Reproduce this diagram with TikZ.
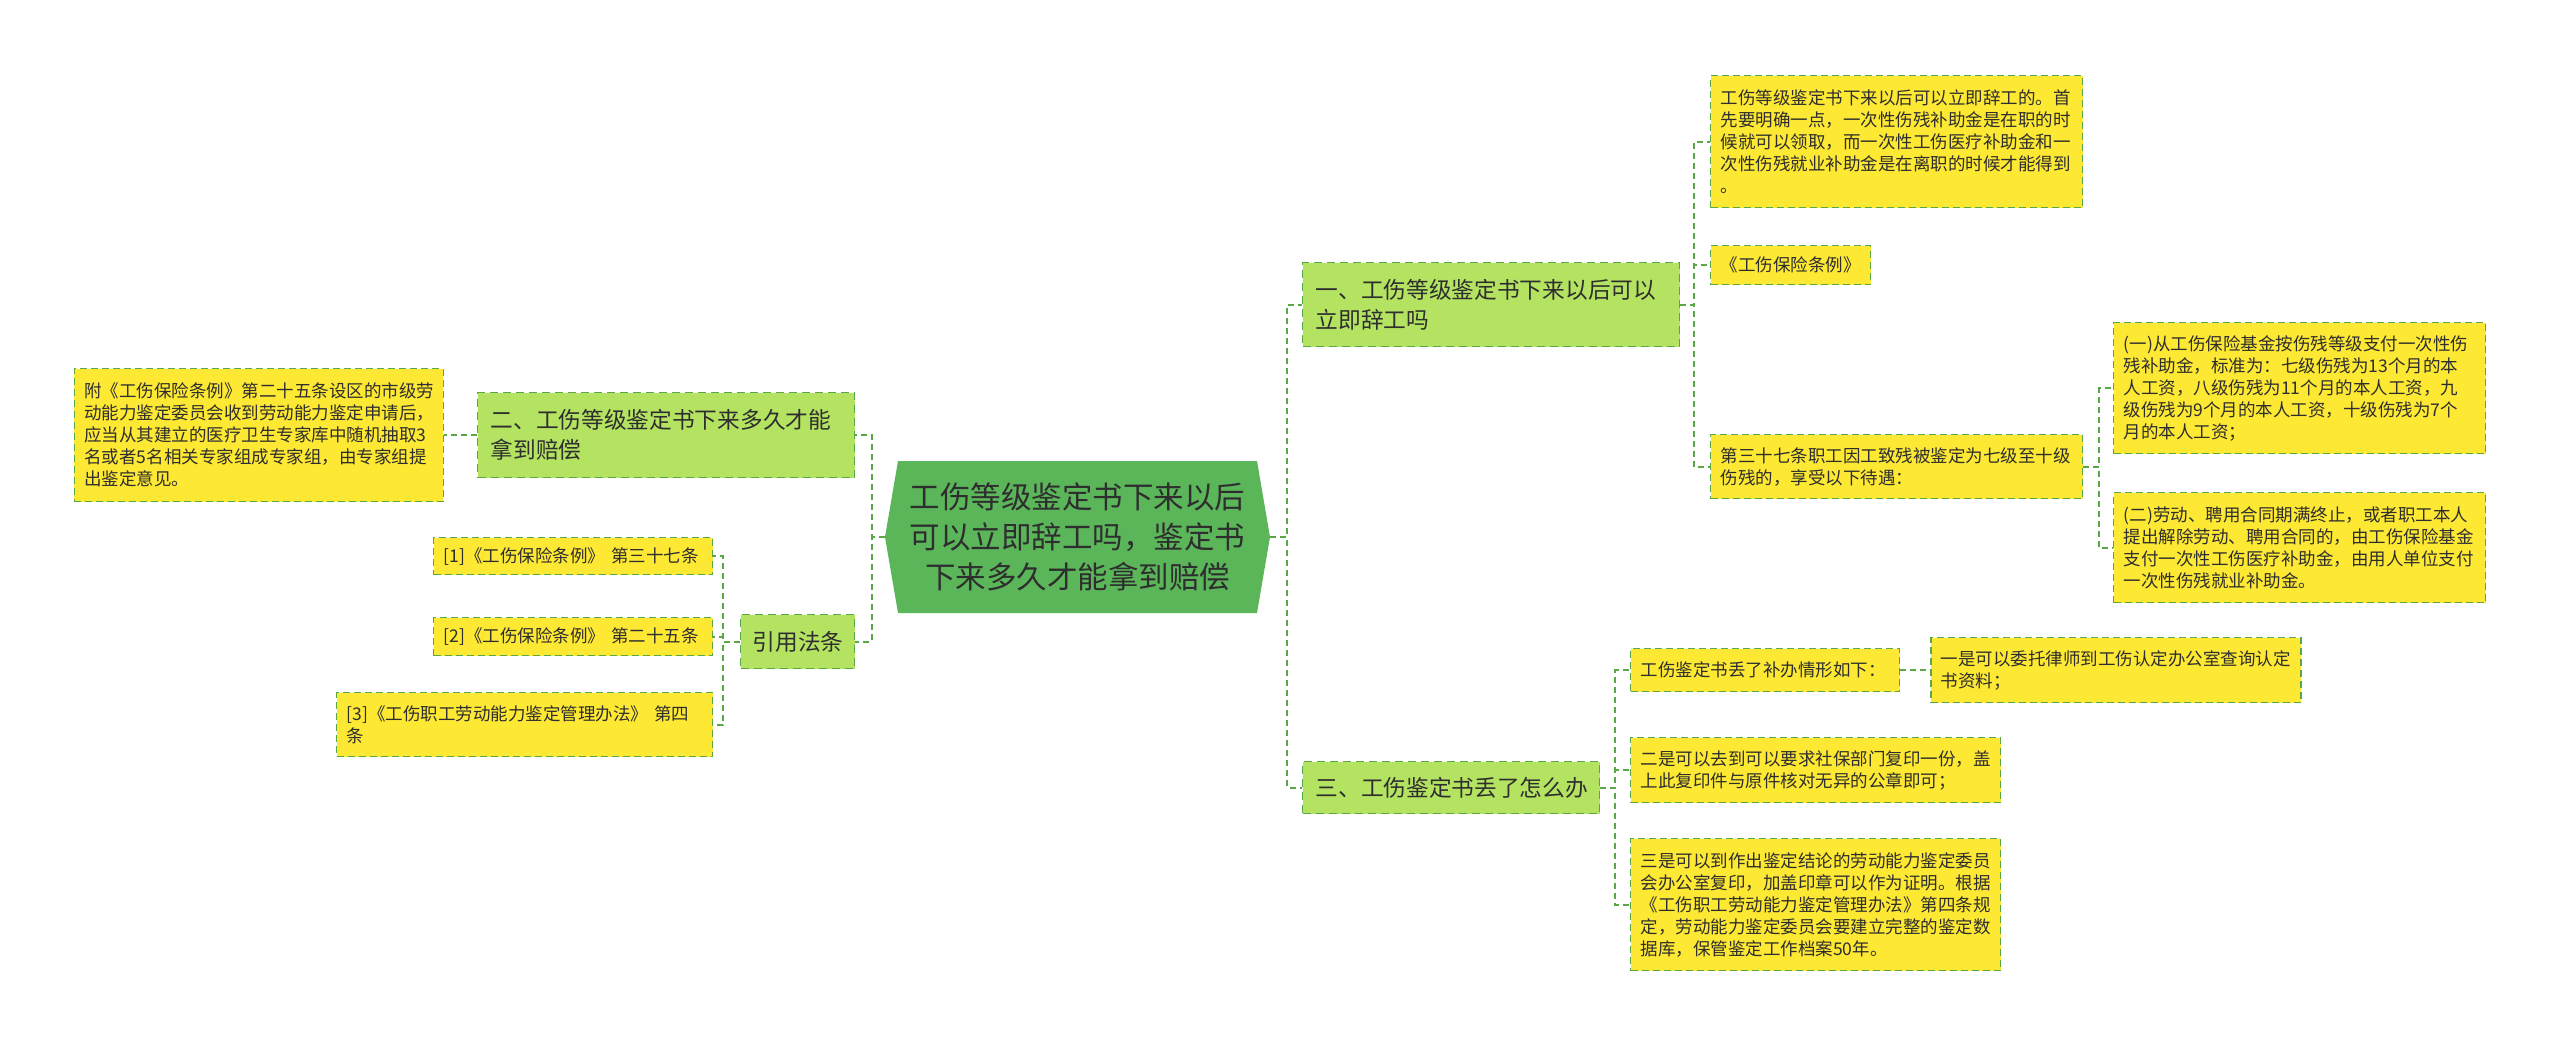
\documentclass[tikz,border=0pt]{standalone}
\usepackage{fontspec}
\setmainfont{Noto Sans CJK SC}
\usepackage{xcolor}
\usepackage{tikz}
\usetikzlibrary{positioning}

\definecolor{rootgreen}{HTML}{5BB65A}
\definecolor{branchgreen}{HTML}{B4E362}
\definecolor{leafyellow}{HTML}{FDE834}
\definecolor{linegreen}{HTML}{5AA845}
\definecolor{textgray}{HTML}{2E2E2E}

\begin{document}
\begin{tikzpicture}[
                x=1pt, y=-1pt,
                rootnode/.style={minimum width=385pt, minimum height=152pt, text width=360pt,
                    align=center, inner sep=0pt, fill=white, text=textgray,
                    font=\fontsize{30.5}{40}\selectfont,
                    path picture={\fill[rootgreen] (path picture bounding box.west)
                        -- ([xshift=13pt]path picture bounding box.north west)
                        -- ([xshift=-13pt]path picture bounding box.north east)
                        -- (path picture bounding box.east)
                        -- ([xshift=-13pt]path picture bounding box.south east)
                        -- ([xshift=13pt]path picture bounding box.south west) -- cycle;}},
                branch/.style 2 args={draw=linegreen, line width=1.3pt, dash pattern=on 8pt off 5pt,
                    fill=branchgreen, text=textgray, anchor=north west, align=left,
                    inner xsep=13pt, inner ysep=0pt, text width=#1, minimum height=#2,
                    font=\fontsize{22.7}{30}\selectfont},
                leaf/.style 2 args={draw=linegreen, line width=1.3pt, dash pattern=on 7pt off 4pt,
                    fill=leafyellow, text=textgray, anchor=north west, align=left,
                    inner xsep=10pt, inner ysep=0pt, text width=#1, minimum height=#2,
                    font=\fontsize{17.5}{22}\selectfont},
                link/.style={draw=linegreen, line width=1.8pt, dash pattern=on 6pt off 4pt}
                ]
                \useasboundingbox (0,0) rectangle (2560,1046);

                % 中心主题
                \node[rootnode] (root) at (1077.5,537) {工伤等级鉴定书下来以后\\可以立即辞工吗，鉴定书\\下来多久才能拿到赔偿};

                % 右侧：一
                \node[branch={351pt}{84pt}] (b1) at (1302,262) {一、工伤等级鉴定书下来以后可以\\立即辞工吗};
                \node[leaf={352pt}{132pt}] (r1a) at (1710,75) {工伤等级鉴定书下来以后可以立即辞工的。首\\先要明确一点，一次性伤残补助金是在职的时\\候就可以领取，而一次性工伤医疗补助金和一\\次性伤残就业补助金是在离职的时候才能得到\\。};
                \node[leaf={140pt}{39pt}] (r1b) at (1710,245) {《工伤保险条例》};
                \node[leaf={352pt}{64pt}] (r1c) at (1710,434) {第三十七条职工因工致残被鉴定为七级至十级\\伤残的，享受以下待遇：};
                \node[leaf={352pt}{131pt}] (r1c1) at (2113,322) {(一)从工伤保险基金按伤残等级支付一次性伤\\残补助金，标准为：七级伤残为13个月的本\\人工资，八级伤残为11个月的本人工资，九\\级伤残为9个月的本人工资，十级伤残为7个\\月的本人工资；};
                \node[leaf={352pt}{110pt}] (r1c2) at (2113,492) {(二)劳动、聘用合同期满终止，或者职工本人\\提出解除劳动、聘用合同的，由工伤保险基金\\支付一次性工伤医疗补助金，由用人单位支付\\一次性伤残就业补助金。};

                % 右侧：三
                \node[branch={271pt}{52pt}] (b3) at (1302,761) {三、工伤鉴定书丢了怎么办};
                \node[leaf={249pt}{43pt}] (r3a) at (1630,648) {工伤鉴定书丢了补办情形如下：};
                \node[leaf={350pt}{65pt}, right=30pt of r3a] (r3a1) {一是可以委托律师到工伤认定办公室查询认定\\书资料；};
                \node[leaf={350pt}{65pt}] (r3b) at (1630,737) {二是可以去到可以要求社保部门复印一份，盖\\上此复印件与原件核对无异的公章即可；};
                \node[leaf={350pt}{132pt}] (r3c) at (1630,838) {三是可以到作出鉴定结论的劳动能力鉴定委员\\会办公室复印，加盖印章可以作为证明。根据\\《工伤职工劳动能力鉴定管理办法》第四条规\\定，劳动能力鉴定委员会要建立完整的鉴定数\\据库，保管鉴定工作档案50年。};

                % 左侧：二
                \node[branch={351pt}{85pt}] (b2) at (477,392) {二、工伤等级鉴定书下来多久才能\\拿到赔偿};
                \node[leaf={349pt}{133pt}, left=33pt of b2] (l2a) {附《工伤保险条例》第二十五条设区的市级劳\\动能力鉴定委员会收到劳动能力鉴定申请后，\\应当从其建立的医疗卫生专家库中随机抽取3\\名或者5名相关专家组成专家组，由专家组提\\出鉴定意见。};

                % 左侧：引用法条
                \node[branch={90pt}{54pt}, inner xsep=12pt] (b4) at (740,614) {引用法条};
                \node[leaf={259pt}{37pt}] (l4a) at (433,537) {[1]《工伤保险条例》 第三十七条};
                \node[leaf={259pt}{38pt}] (l4b) at (433,617) {[2]《工伤保险条例》 第二十五条};
                \node[leaf={356pt}{64pt}] (l4c) at (336,692) {[3]《工伤职工劳动能力鉴定管理办法》 第四\\条};

                % 连线
                \draw[link] (root.east) -- ++(17,0) |- (b1.west);
                \draw[link] (root.east) -- ++(17,0) |- (b3.west);
                \draw[link] (b1.east) -- ++(14,0) |- (r1a.west);
                \draw[link] (b1.east) -- ++(14,0) |- (r1b.west);
                \draw[link] (b1.east) -- ++(14,0) |- (r1c.west);
                \draw[link] (r1c.east) -- ++(16,0) |- (r1c1.west);
                \draw[link] (r1c.east) -- ++(16,0) |- (r1c2.west);
                \draw[link] (b3.east) -- ++(15,0) |- (r3a.west);
                \draw[link] (b3.east) -- ++(15,0) |- (r3b.west);
                \draw[link] (b3.east) -- ++(15,0) |- (r3c.west);
                \draw[link] (r3a) -- (r3a1);
                \draw[link] (root.west) -- ++(-13,0) |- (b2.east);
                \draw[link] (root.west) -- ++(-13,0) |- (b4.east);
                \draw[link] (b2) -- (l2a);
                \draw[link] (b4.west) -- ++(-17,0) |- (l4a.east);
                \draw[link] (b4.west) -- ++(-17,0) |- (l4b.east);
                \draw[link] (b4.west) -- ++(-17,0) |- (l4c.east);
            \end{tikzpicture}
\end{document}
